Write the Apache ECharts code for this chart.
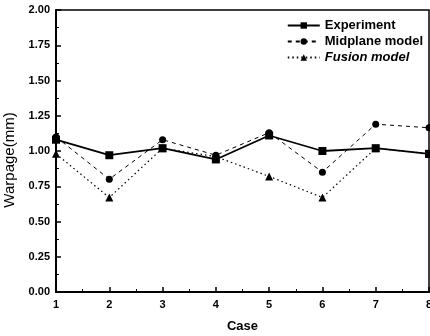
<!DOCTYPE html>
<html>
<head>
<meta charset="utf-8">
<script src="https://cdn.jsdelivr.net/npm/echarts@6/dist/echarts.min.js"></script>
<style>
  html, body { margin: 0; padding: 0; background: #fff; }
  #chart { width: 430px; height: 336px; }
</style>
</head>
<body>
<div id="chart"></div>
<script>
const cases = [1, 2, 3, 4, 5, 6, 7, 8];
const experiment = [1.08, 0.97, 1.02, 0.94, 1.11, 1.00, 1.02, 0.98];
const midplane = [1.10, 0.80, 1.08, 0.97, 1.13, 0.85, 1.19, 1.165];
const fusion = [0.98, 0.67, 1.02, 0.96, 0.82, 0.67, 1.02, 0.98];

const FONT = 'Liberation Sans';

const toPairs = (vals) => vals.map((v, i) => [cases[i], v]);

const chart = echarts.init(document.getElementById('chart'));

chart.setOption({
  animation: false,
  textStyle: { fontFamily: FONT },
  grid: {
    left: 56, right: 1, top: 10, bottom: 44,
    outerBoundsMode: 'none',
    show: true, borderColor: '#000', borderWidth: 1.5
  },
  legend: {
    right: 2, top: 14,
    orient: 'vertical',
    itemWidth: 32, itemHeight: 8, itemGap: 3,
    textStyle: { fontFamily: FONT, fontSize: 13, fontWeight: 'bold', color: '#000' },
    data: [
      { name: 'Experiment' },
      { name: 'Midplane model' },
      { name: 'Fusion model', textStyle: { fontStyle: 'italic' } }
    ]
  },
  xAxis: {
    type: 'value', min: 1, max: 8, interval: 1,
    name: 'Case', nameLocation: 'middle', nameGap: 28,
    nameTextStyle: { fontFamily: FONT, fontSize: 13, fontWeight: 'bold', color: '#000' },
    axisLine: { lineStyle: { color: '#000', width: 2 } },
    axisTick: { inside: true, length: 5, lineStyle: { color: '#000', width: 1.5 } },
    minorTick: { show: true, splitNumber: 2, length: 3, lineStyle: { color: '#000' } },
    axisLabel: { fontFamily: FONT, fontSize: 11, fontWeight: 'bold', color: '#000', margin: 7 },
    splitLine: { show: false }
  },
  yAxis: {
    type: 'value', min: 0, max: 2, interval: 0.25,
    name: 'Warpage(mm)', nameLocation: 'middle', nameGap: 35,
    nameTextStyle: { fontFamily: FONT, fontSize: 15, color: '#000', padding: [0, 18, 0, 0] },
    axisLine: { show: true, lineStyle: { color: '#000', width: 2 } },
    axisTick: { show: true, inside: true, length: 5, lineStyle: { color: '#000', width: 1.5 } },
    minorTick: { show: true, splitNumber: 2, length: 3, lineStyle: { color: '#000' } },
    axisLabel: {
      fontFamily: FONT, fontSize: 11, fontWeight: 'bold', color: '#000', margin: 6,
      formatter: (v) => v.toFixed(2)
    },
    splitLine: { show: false }
  },
  series: [
    {
      name: 'Experiment', type: 'line', data: toPairs(experiment),
      symbol: 'rect', symbolSize: 8, z: 3,
      itemStyle: { color: '#000' },
      lineStyle: { color: '#000', width: 1.8, type: 'solid' }
    },
    {
      name: 'Midplane model', type: 'line', data: toPairs(midplane),
      symbol: 'circle', symbolSize: 7, z: 2,
      itemStyle: { color: '#000' },
      lineStyle: { color: '#000', width: 1, type: [4, 4] }
    },
    {
      name: 'Fusion model', type: 'line', data: toPairs(fusion),
      symbol: 'triangle', symbolSize: 8, z: 2,
      itemStyle: { color: '#000' },
      lineStyle: { color: '#000', width: 1.2, type: [1.5, 3] }
    }
  ]
});
</script>
</body>
</html>
